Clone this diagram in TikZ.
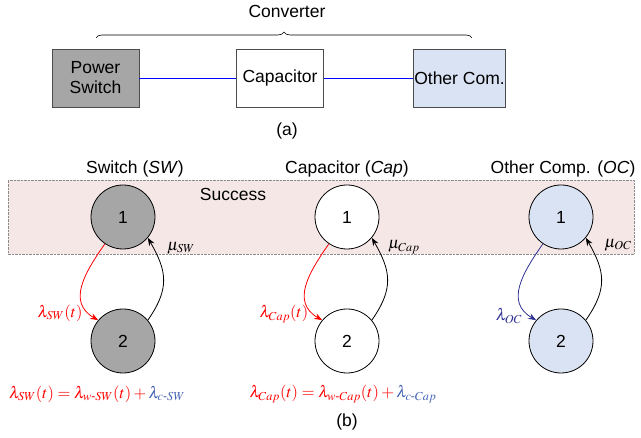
\documentclass[tikz,border=0pt]{standalone}
\usepackage{amsmath}
\usepackage{mathptmx}
\usepackage{fontspec}
\setmainfont{Liberation Sans}
\usepackage{tikz}
\usetikzlibrary{arrows.meta}
\usetikzlibrary{decorations.pathreplacing}

\definecolor{swgray}{HTML}{A6A6A6}
\definecolor{ocblue}{HTML}{DAE3F3}
\definecolor{succpink}{HTML}{F6E7E7}
\definecolor{lamblue}{HTML}{4060B0}
\definecolor{ocnavy}{HTML}{2E3192}

\begin{document}
\begin{tikzpicture}[x=1pt, y=1pt, font=\fontsize{17.5}{20}\selectfont,
        box_style/.style={rectangle,draw=black!70,line width=0.8pt,minimum width=87pt,minimum height=58pt,align=center,inner sep=1pt},
        state_style/.style={circle,draw=black,line width=0.8pt,minimum size=64pt,inner sep=0pt},
        link_style/.style={draw=blue, line width=0.7pt},
        fail_edge_style/.style={draw=red, line width=0.8pt, -{Stealth[length=8pt,width=6pt]}},
        repair_edge_style/.style={draw=black, line width=0.8pt, -{Stealth[length=8pt,width=6pt]}},
        math_style/.style={inner sep=0pt, font=\fontsize{16.5}{18}\selectfont}]

        \useasboundingbox (0,0) rectangle (641,438);

        % (a) converter
        \node (conv) at (287,427) {Converter};
        \draw [line width=0.6pt, decorate, decoration={brace, amplitude=6pt}] (96,400) -- (472,400);

        \node [box_style,fill=swgray] (ps) at (95.5,360) {Power\\Switch};
        \node [box_style,fill=white] (cap) at (280,360) {Capacitor};
        \node [box_style,fill=ocblue] (oc) at (459.5,360) {Other Com.};

        \draw [link_style] (ps) -- (cap);
        \draw [link_style] (cap) -- (oc);

        \node (lbla) at (287,307) {(a)};

        % (b) Markov models
        \draw [draw=black!45, densely dotted, fill=succpink] (8,184) rectangle (634,258);
        \node (succ) at (233,244) {Success};

        \node (tsw) at (135,269) {Switch (\textit{SW})};
        \node (tcap) at (347,269) {Capacitor (\textit{Cap})};
        \node (toc) at (563,269) {Other Comp. (\textit{OC})};

        \node [state_style,fill=swgray] (sw1) at (123,221) {1};
        \node [state_style,fill=swgray] (sw2) at (123,97) {2};
        \node [state_style,fill=white] (cap1) at (347,221) {1};
        \node [state_style,fill=white] (cap2) at (347,97) {2};
        \node [state_style,fill=ocblue] (oc1) at (561,221) {1};
        \node [state_style,fill=ocblue] (oc2) at (561,97) {2};

        \draw [fail_edge_style] (sw1.236) to[out=235,in=150,looseness=1.2] (sw2.140);
        \draw [repair_edge_style] (sw2.40) to[out=55,in=-60,looseness=1.2] (sw1.-40);
        \draw [fail_edge_style] (cap1.236) to[out=235,in=150,looseness=1.2] (cap2.140);
        \draw [repair_edge_style] (cap2.40) to[out=55,in=-60,looseness=1.2] (cap1.-40);
        \draw [fail_edge_style,draw=ocnavy] (oc1.236) to[out=235,in=150,looseness=1.2] (oc2.140);
        \draw [repair_edge_style] (oc2.40) to[out=55,in=-60,looseness=1.2] (oc1.-40);

        \node [math_style] (musw) at (181,190) {$\mu_{SW}$};
        \node [math_style] (mucap) at (404,191) {$\mu_{Cap}$};
        \node [math_style] (muoc) at (618,193) {$\mu_{OC}$};

        \node [math_style,text=red] (lamsw) at (60,125) {$\lambda_{SW}(t)$};
        \node [math_style,text=red] (lamcap) at (284,124) {$\lambda_{Cap}(t)$};
        \node [math_style,text=ocnavy] (lamoc) at (509,122) {$\lambda_{OC}$};

        \node [math_style] (eqsw) at (97,44) {\color{red}$\lambda_{SW}(t)=\lambda_{w\text{-}SW}(t)+{}$\color{lamblue}$\lambda_{c\text{-}SW}$};
        \node [math_style] (eqcap) at (343,44) {\color{red}$\lambda_{Cap}(t)=\lambda_{w\text{-}Cap}(t)+{}$\color{lamblue}$\lambda_{c\text{-}Cap}$};

        \node (lblb) at (347,16) {(b)};

\end{tikzpicture}
\end{document}
